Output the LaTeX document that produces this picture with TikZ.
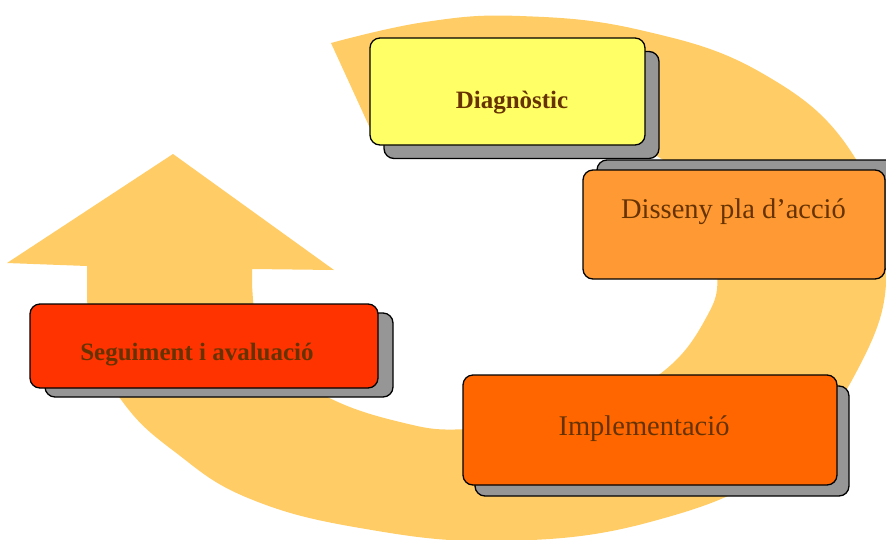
\documentclass[tikz,border=0pt]{standalone}
\usepackage{fontspec}
\setmainfont{Liberation Serif}
\definecolor{bandc}{HTML}{FFCC66}
\definecolor{shadowgray}{HTML}{969696}
\definecolor{txtbrown}{HTML}{663300}
\definecolor{diagc}{HTML}{FFFF66}
\definecolor{dissc}{HTML}{FF9933}
\definecolor{implc}{HTML}{FF6600}
\definecolor{seguc}{HTML}{FF3300}
\begin{document}
\begin{tikzpicture}[x=1pt,y=-1pt,
  box/.style={draw=black, line width=1.3pt, rounded corners=10pt, inner sep=0pt},
  shadebox/.style={box, fill=shadowgray},
  lbl/.style={text=txtbrown, inner sep=0pt, anchor=base},
  boldlbl/.style={lbl, font=\fontsize{25}{30}\selectfont\bfseries},
  reglbl/.style={lbl, font=\fontsize{28.5}{34}\selectfont},
]
\useasboundingbox (0,0) rectangle (886,539);
\clip (0,0) rectangle (886,539);

% big curved arrow (band)
\fill[bandc]
  plot[smooth, tension=0.7] coordinates {(331,43) (425,22) (520,16) (640,30) (760,72) (850,150) (886,260) (860,365) (780,465) (650,522) (500,541) (360,528) (248,498) (175,452) (125,405) (97,350) (87,300)}
  -- (87,266) -- (7,263) -- (173,154) -- (334,270) -- (252,269) -- (252,285)
  -- plot[smooth, tension=0.7] coordinates {(253,300) (268,348) (320,393) (400,422) (470,429) (580,414) (660,374) (706,318) (717,270) (700,200) (650,152) (560,120) (460,116) (375,139)}
  -- cycle;

% Diagnostic
\node[shadebox, minimum width=275pt, minimum height=107pt] (diagS) at (521.5,105) {};
\node[box, fill=diagc, minimum width=275pt, minimum height=107pt] (diag) at (507.5,91.5) {};
\node[boldlbl] (diagT) at (512,108) {Diagnòstic};

% Disseny
\node[shadebox, minimum width=302pt, minimum height=109pt] (dissS) at (748,214.5) {};
\node[box, fill=dissc, minimum width=302pt, minimum height=109pt] (diss) at (734,224.5) {};
\node[reglbl] (dissT) at (733.5,218) {Disseny pla d’acció};

% Seguiment
\node[shadebox, minimum width=348pt, minimum height=84pt] (seguS) at (219,355) {};
\node[box, fill=seguc, minimum width=348pt, minimum height=84pt] (segu) at (204,346) {};
\node[boldlbl] (seguT) at (197,360) {Seguiment i avaluació};

% Implementacio
\node[shadebox, minimum width=374pt, minimum height=110pt] (implS) at (662,441) {};
\node[box, fill=implc, minimum width=374pt, minimum height=110pt] (impl) at (650,430) {};
\node[reglbl] (implT) at (644,435) {Implementació};
\end{tikzpicture}
\end{document}
